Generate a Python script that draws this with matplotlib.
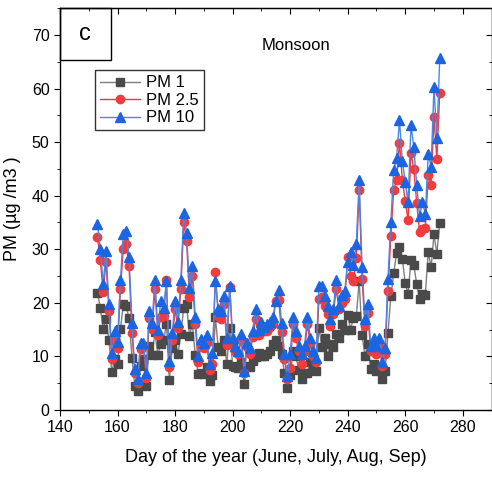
import numpy as np
import matplotlib
matplotlib.use("Agg")
import matplotlib.pyplot as plt
from matplotlib.ticker import MultipleLocator
from matplotlib.patches import Rectangle

plt.rcParams['font.family'] = ['Liberation Sans', 'DejaVu Sans']

# day of year, June 1 .. Sep 29
days = np.arange(153, 273)

pm10 = [34.8, 30.1, 23.5, 29.6, 19.8, 10.7, 14.8, 12.7, 24.2, 32.9,
        33.5, 28.5, 16.3, 7.6, 5.7, 12.6, 12.6, 7.0, 18.5, 16.3,
        24.2, 14.9, 20.4, 19.0, 24.0, 9.2, 14.3, 20.4, 16.5, 24.2,
        36.7, 33.0, 22.7, 26.8,
        17.4, 10.0, 13.3, 12.5, 14.0, 8.5, 10.7, 24.0, 18.9, 18.5,
        21.3, 13.5, 23.2, 13.5, 12.0, 11.0, 14.2, 7.3, 12.5, 11.5,
        14.8, 18.8, 15.0, 16.5, 15.5, 16.0, 16.5, 17.3, 20.4, 22.4,
        16.3, 10.4, 6.4, 10.4, 17.4, 14.8, 12.0, 10.4, 12.0, 17.4,
        13.5, 11.0, 9.8, 23.2, 23.2, 21.3, 19.5, 17.0, 18.9, 24.2,
        19.5, 21.5, 22.3, 27.6, 29.5, 27.0, 31.0, 43.0,
        26.6, 17.0, 19.8, 12.0, 13.5, 12.0, 13.5, 8.9, 11.5, 24.5,
        35.0, 44.8, 47.0, 54.1, 46.5, 42.6, 38.8, 53.2, 49.0, 42.0,
        36.3, 38.8, 36.6, 47.8, 45.4, 60.2, 50.7, 65.7]

pm25 = [32.3, 28.0, 22.1, 27.7, 18.5, 9.6, 13.2, 11.5, 22.6, 30.1,
        31.0, 26.8, 14.4, 7.0, 5.0, 11.4, 11.8, 6.0, 17.1, 15.1,
        22.5, 14.0, 17.4, 17.5, 24.3, 8.0, 13.0, 18.8, 15.4, 22.5,
        35.0, 31.5, 21.1, 25.0,
        16.0, 8.9, 12.0, 11.5, 12.6, 7.5, 8.6, 25.7, 17.6, 17.0,
        19.8, 12.1, 23.0, 12.5, 11.0, 10.5, 13.0, 6.9, 11.7, 10.5,
        13.6, 17.0, 14.0, 15.0, 14.7, 14.8, 15.5, 16.0, 20.4, 20.6,
        14.5, 9.5, 5.8, 7.9, 16.0, 13.5, 11.0, 8.6, 11.0, 16.0,
        12.4, 10.0, 9.0, 20.7, 21.0, 19.5, 18.0, 15.6, 18.0, 22.5,
        18.9, 20.0, 20.7, 28.5, 25.1, 24.0, 28.3, 41.0,
        24.5, 15.7, 18.2, 11.0, 12.5, 10.5, 12.0, 8.3, 10.5, 22.3,
        32.4, 41.1, 43.0, 49.9, 43.0, 39.0, 35.5, 48.0, 44.9, 38.6,
        33.2, 33.8, 34.0, 43.8, 42.0, 54.6, 46.8, 59.2]

pm1 = [21.9, 19.0, 15.1, 17.0, 13.1, 7.1, 9.5, 8.6, 15.1, 19.8,
       19.4, 17.1, 9.8, 4.5, 3.6, 8.2, 9.6, 4.5, 12.0, 10.3,
       14.5, 10.3, 12.4, 13.0, 16.0, 5.6, 11.5, 13.0, 10.5, 14.2,
       19.0, 19.7, 13.9, 16.0,
       10.3, 6.7, 7.0, 6.7, 8.0, 5.4, 6.5, 17.3, 11.7, 11.0,
       13.0, 8.6, 15.4, 8.2, 8.0, 7.8, 9.0, 4.8, 8.3, 8.0,
       9.2, 9.9, 10.7, 10.0, 10.0, 10.4, 11.0, 12.3, 13.0, 12.0,
       10.5, 7.0, 4.2, 6.5, 11.0, 10.0, 7.5, 5.8, 7.0, 6.9,
       9.0, 7.5, 7.3, 15.4, 11.8, 13.4, 10.1, 12.4, 11.8, 14.2,
       13.4, 16.1, 15.0, 17.8, 15.0, 17.2, 17.5, 24.0,
       14.0, 10.1, 12.4, 7.6, 8.5, 7.3, 8.0, 5.7, 7.3, 14.3,
       21.2, 25.5, 29.3, 30.5, 28.2, 23.7, 21.7, 28.0, 27.0, 23.5,
       20.7, 21.7, 21.5, 29.5, 26.6, 32.8, 29.2, 34.9]

fig = plt.figure(figsize=(4.92, 4.79), dpi=100)
ax = fig.add_axes([0.122, 0.144, 0.877, 0.839])

ax.plot(days, pm1, color='#7f7f7f', lw=1.0, marker='s', ms=5.5,
        mfc='#4a4a4a', mec='#4a4a4a', label='PM 1')
ax.plot(days, pm25, color='#f03a3a', lw=1.0, marker='o', ms=6,
        mfc='#f03c3c', mec='#f03c3c', label='PM 2.5')
ax.plot(days, pm10, color='#4a86e8', lw=1.0, marker='^', ms=6.5,
        mfc='#1c64e0', mec='#1c64e0', label='PM 10')

ax.set_xlim(140, 290)
ax.set_ylim(0, 75)
ax.xaxis.set_major_locator(MultipleLocator(20))
ax.xaxis.set_minor_locator(MultipleLocator(10))
ax.yaxis.set_major_locator(MultipleLocator(10))
ax.yaxis.set_minor_locator(MultipleLocator(5))
ax.tick_params(which='both', direction='out', labelsize=11.5)
ax.tick_params(which='major', length=4)
ax.tick_params(which='minor', length=2.5)
for s in ax.spines.values():
    s.set_linewidth(1.0)

# inward ticks on top and right spines
sx = ax.secondary_xaxis('top')
sx.xaxis.set_major_locator(MultipleLocator(20))
sx.xaxis.set_minor_locator(MultipleLocator(10))
sx.tick_params(which='both', direction='in', labeltop=False)
sx.tick_params(which='major', length=4)
sx.tick_params(which='minor', length=2.5)
sy = ax.secondary_yaxis('right')
sy.yaxis.set_major_locator(MultipleLocator(10))
sy.yaxis.set_minor_locator(MultipleLocator(5))
sy.tick_params(which='both', direction='in', labelright=False)
sy.tick_params(which='major', length=4)
sy.tick_params(which='minor', length=2.5)

ax.set_xlabel('Day of the year (June, July, Aug, Sep)', fontsize=13, labelpad=10)
ax.set_ylabel('PM (µg /m3 )', fontsize=13, labelpad=8)

ax.text(222, 68, 'Monsoon', fontsize=12, ha='center', va='center')

# panel label box
ax.add_patch(Rectangle((0, 0.87), 0.117, 0.13, transform=ax.transAxes,
                       fill=False, ec='black', lw=1.0, clip_on=False))
ax.text(0.058, 0.935, 'c', transform=ax.transAxes, fontsize=17,
        ha='center', va='center')

leg = ax.legend(loc='upper left', bbox_to_anchor=(0.08, 0.845), fontsize=12,
                frameon=True, fancybox=False, handlelength=2.4,
                borderpad=0.3, labelspacing=0.15, handletextpad=0.4,
                borderaxespad=0)
leg.get_frame().set_edgecolor('black')
leg.get_frame().set_linewidth(1.0)

fig.savefig('out.png', dpi=100)
